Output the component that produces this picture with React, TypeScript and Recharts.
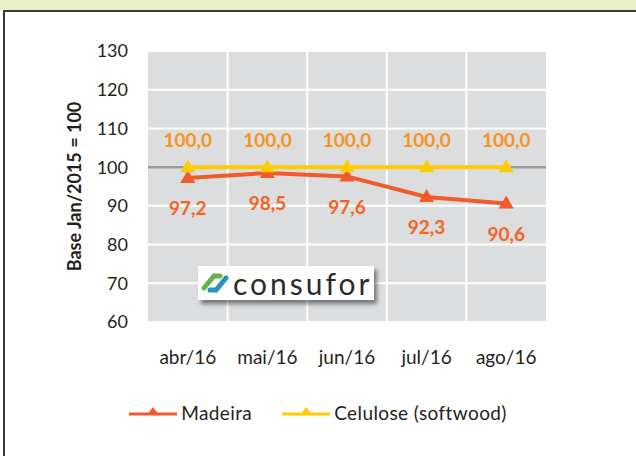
import React from 'react';
import {
  LineChart,
  Line,
  XAxis,
  YAxis,
  CartesianGrid,
  ReferenceLine,
  LabelList,
  Legend,
} from 'recharts';

const categories = ['abr/16', 'mai/16', 'jun/16', 'jul/16', 'ago/16'];
const madeira = [97.2, 98.5, 97.6, 92.3, 90.6];
const celulose = [100.0, 100.0, 100.0, 100.0, 100.0];
const yTicks = [60, 70, 80, 90, 100, 110, 120, 130];
const seriesOrder = ['Madeira', 'Celulose (softwood)'];

const data = categories.map((c, i) => ({ cat: c, madeira: madeira[i], celulose: celulose[i] }));

const RED = '#f15a29';
const YELLOW = '#ffcb05';
const FONT = 'Lato, "Open Sans", sans-serif';

const fmt = (v: any) => Number(v).toFixed(1).replace('.', ',');

const Tri = (props: any) => {
  const { cx, cy, fill } = props;
  if (cx == null || cy == null) return null;
  return <path d={`M${cx},${cy - 8} L${cx + 7.5},${cy + 5} L${cx - 7.5},${cy + 5} Z`} fill={fill} />;
};

const LegendContent = (props: any) => {
  const payload = [...(props.payload || [])].sort(
    (a: any, b: any) => seriesOrder.indexOf(a.value) - seriesOrder.indexOf(b.value)
  );
  return (
    <div style={{ display: 'flex', justifyContent: 'center', alignItems: 'center', fontFamily: FONT, fontSize: 19, color: '#231f20' }}>
      {payload.map((p: any, i: number) => (
        <div key={i} style={{ display: 'flex', alignItems: 'center', marginRight: i === 0 ? 30 : 0 }}>
          <svg width={48} height={16} style={{ marginRight: 4 }}>
            <line x1={0} y1={9} x2={48} y2={9} stroke={p.color} strokeWidth={3} />
            <path d="M24,2 L30,10 L18,10 Z" fill={p.color} />
          </svg>
          <span style={{ letterSpacing: 0.4 }}>{p.value}</span>
        </div>
      ))}
    </div>
  );
};

const Logo = () => (
  <div
    style={{
      position: 'absolute',
      left: 198,
      top: 266,
      width: 176,
      height: 34,
      background: '#fff',
      boxShadow: '3px 4px 4px rgba(0,0,0,0.45)',
      display: 'flex',
      alignItems: 'center',
      fontFamily: FONT,
    }}
  >
    <svg width={30} height={30} style={{ marginLeft: 2, marginRight: 3 }}>
      <path d="M4,20 L14,8 L20,8" stroke="#6ab04c" strokeWidth={5} fill="none" strokeLinecap="round" />
      <path d="M26,10 L16,22 L10,22" stroke="#2a8fc1" strokeWidth={5} fill="none" strokeLinecap="round" />
    </svg>
    <span style={{ fontSize: 30, color: '#2b2b2b', letterSpacing: 3, lineHeight: '30px' }}>consufor</span>
  </div>
);

export default function App() {
  return (
    <div style={{ position: 'absolute', left: 0, top: 0, width: 636, height: 456, background: '#fff', overflow: 'hidden' }}>
      <div style={{ position: 'absolute', left: 0, top: 0, width: 636, height: 10, background: '#e8edca' }} />
      <div
        style={{
          position: 'absolute',
          left: 3,
          top: 10,
          width: 640,
          height: 460,
          borderTop: '2px solid #3a3a3a',
          borderLeft: '2px solid #3a3a3a',
        }}
      />
      <div style={{ position: 'absolute', left: 0, top: 0 }}>
        <LineChart width={636} height={456} data={data} margin={{ top: 51, right: 90, bottom: 84, left: 60 }}>
          <CartesianGrid
            fill="#dcdddf"
            stroke="#ffffff"
            strokeWidth={2}
            verticalCoordinatesGenerator={({ offset }: any) =>
              categories.slice(1).map((_, i) => offset.left + ((i + 1) * offset.width) / categories.length)
            }
          />
          <XAxis
            dataKey="cat"
            scale="band"
            axisLine={false}
            tickLine={false}
            height={50}
            tickMargin={23}
            tick={{ fill: '#231f20', fontSize: 19, fontFamily: FONT }}
            interval={0}
          />
          <YAxis
            width={88}
            domain={[60, 130]}
            ticks={yTicks}
            axisLine={false}
            tickLine={false}
            tickMargin={14}
            tick={{ fill: '#231f20', fontSize: 18, fontFamily: FONT }}
            label={{
              value: 'Base Jan/2015 = 100',
              angle: -90,
              position: 'insideLeft',
              offset: 15,
              style: { textAnchor: 'middle', fill: '#231f20', fontSize: 18, fontWeight: 700, fontFamily: FONT },
            }}
          />
          <ReferenceLine y={100} stroke="#9a9a9a" strokeWidth={2.5} />
          <Line
            dataKey="madeira"
            name="Madeira"
            stroke={RED}
            strokeWidth={4}
            dot={<Tri fill={RED} />}
            activeDot={false}
            isAnimationActive={false}
          >
            <LabelList
              dataKey="madeira"
              position="bottom"
              offset={24}
              formatter={fmt}
              style={{ fill: '#f26522', fontSize: 19, fontWeight: 700, fontFamily: FONT }}
            />
          </Line>
          <Line
            dataKey="celulose"
            name="Celulose (softwood)"
            stroke={YELLOW}
            strokeWidth={4}
            dot={<Tri fill={YELLOW} />}
            activeDot={false}
            isAnimationActive={false}
          >
            <LabelList
              dataKey="celulose"
              position="top"
              offset={20}
              formatter={fmt}
              style={{ fill: '#f7941d', fontSize: 19, fontWeight: 700, fontFamily: FONT }}
            />
          </Line>
          <Legend
            verticalAlign="middle"
            align="center"
            layout="horizontal"
            content={<LegendContent />}
            wrapperStyle={{ top: 401, left: 0, width: 636 }}
          />
        </LineChart>
      </div>
      <Logo />
    </div>
  );
}
